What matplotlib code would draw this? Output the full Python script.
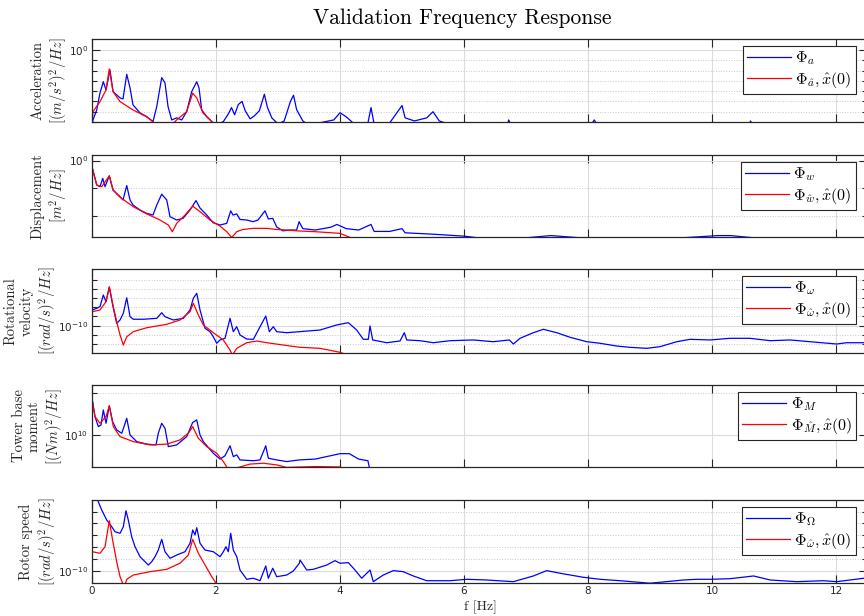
"""
Frequency response validation plot.

Power spectral densities of the measured signals compared with the
estimator output started from x_hat(0), one panel per signal.
"""

import numpy as np
import matplotlib
matplotlib.use("Agg")
import matplotlib.pyplot as plt
from matplotlib.font_manager import FontProperties
from matplotlib.ticker import FixedLocator, FuncFormatter, NullFormatter

plt.rcParams["mathtext.fontset"] = "custom"
plt.rcParams["mathtext.rm"] = "Liberation Sans"
plt.rcParams["mathtext.it"] = "Liberation Sans:italic"
plt.rcParams["mathtext.bf"] = "Liberation Sans:bold"

OUT_PATH = "out.png"
BLUE = "#0000ff"
RED = "#ff0000"
AX_COLOR = "#262626"

# --- acceleration PSD, log10 values ---
acc_f = [0.0, 0.016, 0.076, 0.129, 0.182, 0.226, 0.29, 0.339, 0.452, 0.5, 0.56, 0.613, 0.661,
         0.774, 0.882, 0.984, 1.044, 1.124, 1.177, 1.226, 1.285, 1.366, 1.447, 1.527, 1.608,
         1.689, 1.726, 1.769, 1.85, 1.931, 2.0, 2.12, 2.2, 2.25, 2.3, 2.36, 2.42, 2.47, 2.55,
         2.62, 2.7, 2.78, 2.83, 2.9, 3.0, 3.1, 3.2, 3.25, 3.3, 3.4, 3.5, 3.9, 4.0, 4.1, 4.25,
         4.45, 4.5, 4.55, 4.8, 5.0, 5.05, 5.2, 5.4, 5.5, 5.6, 5.8, 6.7, 6.72, 6.76, 8.05, 8.1,
         8.15, 10.6, 10.62, 10.66, 12.5]
acc_meas = [-7.3, -6.8, -5.83, -4.17, -3.08, -3.88, -1.94, -4.05, -4.66, -4.76, -2.36, -3.69,
            -5.34, -6.12, -6.48, -6.96, -5.5, -2.69, -3.2, -5.5, -6.8, -6.6, -6.8, -5.99, -4.05,
            -3.08, -3.69, -5.83, -6.48, -6.96, -7.3, -6.95, -6.2, -5.6, -6.3, -5.3, -5.0, -5.9,
            -6.7, -6.4, -5.9, -4.3, -5.6, -6.6, -7.2, -6.9, -5.0, -4.4, -5.8, -6.9, -7.3, -6.8,
            -6.1, -6.5, -7.3, -7.1, -5.6, -7.2, -7.1, -5.4, -6.6, -6.9, -6.6, -6.0, -6.9, -7.3,
            -7.3, -6.8, -7.3, -7.3, -6.8, -7.3, -7.3, -6.9, -7.3, -7.3]
acc_est_f = [0.0, 0.016, 0.129, 0.226, 0.279, 0.339, 0.452, 0.661, 0.882, 0.984, 1.03, 1.26,
             1.366, 1.527, 1.624, 1.689, 1.79, 1.931, 1.98]
acc_est = [-6.9, -5.99, -5.02, -3.88, -1.84, -4.05, -5.02, -5.83, -6.5, -6.99, -7.4, -7.4,
           -6.8, -5.99, -4.2, -4.66, -6.12, -6.96, -7.4]

# --- displacement PSD ---
disp_f = [0.005, 0.076, 0.129, 0.173, 0.21, 0.279, 0.339, 0.452, 0.5, 0.56, 0.613, 0.661,
          0.774, 0.882, 0.984, 1.044, 1.124, 1.205, 1.258, 1.366, 1.468, 1.581, 1.677, 1.742,
          1.85, 1.956, 2.065, 2.173, 2.237, 2.274, 2.334, 2.387, 2.495, 2.597, 2.677, 2.79,
          2.844, 2.915, 2.979, 3.08, 3.19, 3.3, 3.34, 3.4, 3.6, 3.85, 3.95, 4.1, 4.3, 4.5,
          4.55, 4.8, 5.0, 5.05, 5.5, 6.0, 6.3, 7.0, 7.4, 8.0, 9.0, 10.1, 10.3, 11.0, 12.5]
disp_meas = [-0.27, -0.88, -0.94, -0.64, -0.94, -0.55, -1.06, -1.3, -1.42, -0.9, -1.42, -1.6,
             -1.78, -1.9, -1.96, -1.6, -1.21, -1.42, -2.02, -2.14, -2.08, -1.78, -1.44, -1.71,
             -1.96, -2.24, -2.32, -2.26, -1.81, -1.96, -1.92, -2.12, -2.14, -2.2, -2.14, -1.81,
             -2.1, -2.08, -2.39, -2.53, -2.5, -2.5, -2.2, -2.45, -2.5, -2.4, -2.3, -2.45, -2.5,
             -2.3, -2.55, -2.55, -2.45, -2.6, -2.65, -2.72, -2.8, -2.78, -2.7, -2.8, -2.85, -2.7,
             -2.7, -2.85, -2.85]
disp_est_f = [0.005, 0.076, 0.156, 0.279, 0.339, 0.452, 0.666, 0.882, 1.097, 1.231, 1.295,
              1.366, 1.5, 1.624, 1.742, 1.903, 2.065, 2.173, 2.253, 2.334, 2.435, 2.597, 2.818,
              2.979, 3.14, 3.3, 3.6, 4.0, 4.2]
disp_est = [-0.27, -0.88, -0.94, -0.55, -1.06, -1.32, -1.66, -1.92, -2.14, -2.32, -2.56,
            -2.26, -1.96, -1.64, -1.84, -2.14, -2.36, -2.56, -2.77, -2.56, -2.48, -2.44, -2.44,
            -2.48, -2.5, -2.53, -2.56, -2.62, -2.8]

# --- rotational velocity PSD ---
rot_f = [0.005, 0.076, 0.129, 0.182, 0.226, 0.279, 0.344, 0.398, 0.452, 0.505, 0.56, 0.613,
         0.666, 0.827, 1.044, 1.124, 1.177, 1.311, 1.473, 1.581, 1.634, 1.689, 1.742, 1.823,
         1.903, 1.956, 2.011, 2.065, 2.145, 2.226, 2.279, 2.334, 2.387, 2.495, 2.602, 2.682,
         2.802, 2.86, 2.924, 2.979, 3.14, 3.344, 3.677, 3.947, 4.134, 4.269, 4.376, 4.456,
         4.484, 4.527, 4.753, 4.968, 5.037, 5.076, 5.29, 5.505, 5.774, 6.15, 6.473, 6.731,
         6.796, 6.903, 7.118, 7.279, 7.495, 7.71, 7.979, 8.194, 8.463, 8.677, 8.947, 9.161,
         9.431, 9.645, 9.968, 10.29, 10.61, 10.94, 11.26, 11.58, 12.01, 12.17, 12.45, 12.5]
rot_meas = [-8.29, -8.11, -7.93, -6.66, -7.39, -5.83, -8.11, -9.74, -9.38, -8.65, -6.96, -9.02,
            -9.3, -9.3, -9.2, -8.59, -9.02, -9.38, -9.2, -8.29, -7.02, -6.48, -8.29, -10.28,
            -10.65, -11.2, -11.91, -11.55, -11.37, -9.2, -10.65, -10.11, -11.01, -11.45, -11.48,
            -10.47, -8.95, -10.65, -10.11, -10.65, -10.76, -10.65, -10.47, -9.92, -9.67, -10.47,
            -11.48, -11.48, -10.03, -11.55, -11.85, -11.66, -10.76, -11.55, -11.63, -11.85,
            -11.63, -11.55, -11.74, -11.55, -11.99, -11.37, -10.76, -10.39, -10.76, -11.26,
            -11.74, -11.91, -12.21, -12.35, -12.46, -12.28, -11.74, -11.48, -11.55, -11.37,
            -11.37, -11.63, -11.55, -11.74, -11.99, -11.85, -11.85, -11.9]
rot_est_f = [0.005, 0.129, 0.226, 0.279, 0.332, 0.398, 0.452, 0.505, 0.56, 0.666, 0.882, 1.205,
             1.419, 1.581, 1.634, 1.715, 1.795, 1.956, 2.118, 2.226, 2.263, 2.334, 2.495, 2.656,
             2.818, 3.085, 3.355, 3.677, 4.0, 4.08, 4.16]
rot_est = [-8.48, -8.29, -7.39, -5.76, -7.57, -9.57, -11.01, -12.1, -11.2, -10.65, -10.22,
           -9.85, -9.38, -8.48, -7.57, -8.84, -9.92, -10.76, -11.55, -12.64, -13.18, -12.46,
           -11.85, -11.66, -11.85, -12.1, -12.35, -12.46, -12.89, -13.08, -13.4]

# --- tower base moment PSD ---
mom_f = [0.005, 0.048, 0.102, 0.145, 0.182, 0.226, 0.279, 0.332, 0.398, 0.479, 0.516, 0.56,
         0.613, 0.721, 0.882, 1.032, 1.069, 1.124, 1.177, 1.231, 1.366, 1.527, 1.624, 1.689,
         1.742, 1.795, 1.956, 2.065, 2.145, 2.226, 2.279, 2.334, 2.387, 2.602, 2.71, 2.802,
         2.844, 2.979, 3.14, 3.344, 3.6, 4.0, 4.15, 4.3, 4.45, 4.49, 4.52]
mom_meas = [10.84, 10.44, 10.2, 10.24, 10.6, 10.28, 10.7, 10.32, 10.12, 10.04, 10.2, 10.4, 10.0,
            9.84, 9.78, 9.76, 10.04, 10.28, 10.16, 9.72, 9.76, 9.96, 10.3, 10.36, 10.0, 9.84,
            9.56, 9.42, 9.5, 9.74, 9.48, 9.52, 9.4, 9.38, 9.4, 9.74, 9.44, 9.4, 9.36, 9.4, 9.42,
            9.55, 9.55, 9.42, 9.38, 9.1, 8.9]
mom_est_f = [0.005, 0.048, 0.129, 0.226, 0.279, 0.344, 0.452, 0.666, 0.935, 1.205, 1.419, 1.553,
             1.624, 1.715, 1.85, 2.011, 2.118, 2.173, 2.19, 2.387, 2.548, 2.763, 2.979, 3.14,
             3.355, 3.6, 4.0, 4.1]
mom_est = [10.82, 10.44, 10.28, 10.44, 10.7, 10.2, 9.96, 9.84, 9.76, 9.78, 9.88, 10.04, 10.2,
           9.92, 9.72, 9.56, 9.36, 9.23, 9.15, 9.23, 9.3, 9.32, 9.28, 9.22, 9.23, 9.24, 9.23,
           9.18]

# --- rotor speed PSD ---
spd_f = [0.08, 0.156, 0.237, 0.318, 0.371, 0.452, 0.505, 0.548, 0.585, 0.64, 0.694, 0.774,
         0.855, 0.908, 0.963, 1.016, 1.069, 1.124, 1.177, 1.258, 1.366, 1.5, 1.581, 1.624,
         1.661, 1.689, 1.742, 1.823, 1.956, 2.065, 2.118, 2.161, 2.198, 2.237, 2.279, 2.334,
         2.387, 2.495, 2.602, 2.71, 2.802, 2.844, 2.915, 2.979, 3.14, 3.247, 3.344, 3.355,
         3.463, 3.569, 3.785, 3.919, 4.0, 4.134, 4.242, 4.35, 4.484, 4.537, 4.698, 4.86, 5.021,
         5.182, 5.398, 5.774, 6.044, 6.366, 6.796, 7.118, 7.334, 7.548, 7.924, 8.194, 8.516,
         9.0, 9.537, 9.753, 9.968, 10.29, 10.67, 10.94, 11.37, 11.8, 12.01, 12.45, 12.5]
spd_meas = [-3.9, -4.87, -5.71, -6.28, -6.7, -6.83, -6.28, -4.93, -5.71, -7.12, -7.96, -8.8,
            -9.22, -9.5, -9.22, -8.8, -8.24, -7.34, -8.38, -8.93, -8.66, -8.38, -7.67, -6.55,
            -6.97, -6.36, -7.67, -8.24, -8.38, -8.8, -8.38, -7.96, -8.38, -6.83, -8.24, -8.8,
            -9.92, -10.7, -10.61, -10.82, -9.58, -10.61, -9.77, -10.48, -10.34, -10.0, -9.35,
            -9.08, -9.92, -9.86, -9.5, -9.13, -9.35, -9.3, -9.92, -10.61, -9.92, -10.9, -10.34,
            -9.97, -10.06, -10.42, -10.82, -10.82, -10.7, -10.76, -10.9, -10.42, -9.97, -10.19,
            -10.53, -10.7, -10.82, -11.03, -10.76, -10.7, -10.7, -10.65, -10.42, -10.76, -10.9,
            -10.82, -10.9, -10.61, -10.67]
spd_est_f = [0.005, 0.129, 0.21, 0.279, 0.332, 0.398, 0.452, 0.495, 0.52, 0.56, 0.666, 0.935,
             1.205, 1.419, 1.553, 1.624, 1.715, 1.823, 1.931, 2.0, 2.03]
spd_est = [-8.38, -8.51, -7.96, -5.77, -7.39, -9.22, -10.48, -11.03, -11.4, -10.7, -10.34,
           -10.06, -9.86, -9.35, -8.66, -7.34, -8.51, -9.5, -10.48, -11.03, -11.4]

# --- panel layout (left, bottom, width, height) in figure fractions ---
PANELS = [
    dict(pos=(0.1065, 0.802, 0.897, 0.1347), ylim=(-7.0, 1.07), major=[0],
         minor=list(range(-7, 0)), ylabel="Acceleration\n$[(m/s^2)^2/Hz]$", labx=-0.0297,
         f=acc_f, meas=acc_meas, est_f=acc_est_f, est=acc_est,
         labels=(r"$\Phi_a$", r"$\Phi_{\hat{a}}, \hat{x}(0)$")),
    dict(pos=(0.1065, 0.6153, 0.897, 0.1331), ylim=(-2.75, 0.2), major=[0], minor=[-1, -2],
         ylabel="Displacement\n$[m^2/Hz]$", labx=-0.0297,
         f=disp_f, meas=disp_meas, est_f=disp_est_f, est=disp_est,
         labels=(r"$\Phi_w$", r"$\Phi_{\hat{w}}, \hat{x}(0)$")),
    dict(pos=(0.1065, 0.4269, 0.897, 0.1364), ylim=(-12.97, -3.84), major=[-10],
         minor=[-5, -6, -7, -8, -9, -11, -12], ylabel="Rotational\nvelocity\n$[(rad/s)^2/Hz]$",
         labx=-0.0445, f=rot_f, meas=rot_meas, est_f=rot_est_f, est=rot_est,
         labels=(r"$\Phi_\omega$", r"$\Phi_{\hat{\omega}}, \hat{x}(0)$")),
    dict(pos=(0.1065, 0.2419, 0.897, 0.1331), ylim=(9.23, 11.2), major=[10], minor=[11],
         ylabel="Tower base\nmoment\n$[(Nm)^2/Hz]$", labx=-0.0348,
         f=mom_f, meas=mom_meas, est_f=mom_est_f, est=mom_est,
         labels=(r"$\Phi_M$", r"$\Phi_{\hat{M}}, \hat{x}(0)$")),
    dict(pos=(0.1065, 0.0536, 0.897, 0.1347), ylim=(-11.01, -4.03), major=[-10],
         minor=[-5, -6, -7, -8, -9], ylabel="Rotor speed\n$[(rad/s)^2/Hz]$", labx=-0.0445,
         f=spd_f, meas=spd_meas, est_f=spd_est_f, est=spd_est,
         labels=(r"$\Phi_\Omega$", r"$\Phi_{\hat{\omega}}, \hat{x}(0)$")),
]

X_TICKS = [0, 2, 4, 6, 8, 10, 12]
X_LIM = (0, 12.5)


def decade_label(val, pos):
    return r"$\mathregular{10^{%d}}$" % int(round(np.log10(val)))


def style_axes(ax, panel, show_xlabels):
    ax.set_yscale("log")
    ax.set_xlim(*X_LIM)
    ax.set_ylim(10.0 ** panel["ylim"][0], 10.0 ** panel["ylim"][1])

    ax.xaxis.set_major_locator(FixedLocator(X_TICKS))
    ax.yaxis.set_major_locator(FixedLocator([10.0 ** e for e in panel["major"]]))
    ax.yaxis.set_minor_locator(FixedLocator([10.0 ** e for e in panel["minor"]]))
    ax.yaxis.set_major_formatter(FuncFormatter(decade_label))
    ax.yaxis.set_minor_formatter(NullFormatter())
    if not show_xlabels:
        ax.set_xticklabels([])

    ax.tick_params(which="both", direction="in", top=True, right=True, colors=AX_COLOR,
                   labelsize=7.5, width=0.8)
    ax.tick_params(which="major", length=6, pad=2.5)
    ax.tick_params(which="minor", length=3.5)
    for sp in ax.spines.values():
        sp.set_color(AX_COLOR)
        sp.set_linewidth(0.9)

    ax.grid(True, which="major", color="#dcdcdc", linewidth=0.8, linestyle="-")
    ax.grid(True, which="minor", axis="y", color="#c8c8c8", linewidth=0.7, linestyle=":")
    ax.set_axisbelow(True)

    lab_font = FontProperties(family="cmr10", size=10.5, math_fontfamily="cm")
    ax.set_ylabel(panel["ylabel"], fontproperties=lab_font, color=AX_COLOR, linespacing=1.15)
    ax.yaxis.set_label_coords(panel["labx"], 0.5)


def plot_panel(fig, panel, show_xlabels):
    ax = fig.add_axes(panel["pos"])
    ax.plot(panel["f"], 10.0 ** np.array(panel["meas"]), color=BLUE, linewidth=0.9,
            label=panel["labels"][0])
    ax.plot(panel["est_f"], 10.0 ** np.array(panel["est"]), color=RED, linewidth=0.9,
            label=panel["labels"][1])
    style_axes(ax, panel, show_xlabels)

    leg_font = FontProperties(family="cmr10", size=11.5, math_fontfamily="cm")
    leg = ax.legend(loc="upper right", bbox_to_anchor=(0.9855, 0.92), borderaxespad=0,
                    prop=leg_font, handlelength=2.75, handletextpad=0.3, labelspacing=0.15,
                    borderpad=0.25, fancybox=False, framealpha=1.0, edgecolor=AX_COLOR)
    leg.get_frame().set_linewidth(0.8)
    return ax


def main():
    fig = plt.figure(figsize=(8.64, 6.16), dpi=100)

    for i, panel in enumerate(PANELS):
        plot_panel(fig, panel, show_xlabels=(i == len(PANELS) - 1))

    fig.text(0.535, 0.971, "Validation Frequency Response", family="cmr10", fontsize=15.5,
             ha="center", va="center", color="black")
    fig.text(480 / 864, 1 - 607 / 616, "f [Hz]", family="cmr10", fontsize=10,
             ha="center", va="center", color=AX_COLOR)

    fig.savefig(OUT_PATH, dpi=100)
    plt.close(fig)


if __name__ == "__main__":
    main()
